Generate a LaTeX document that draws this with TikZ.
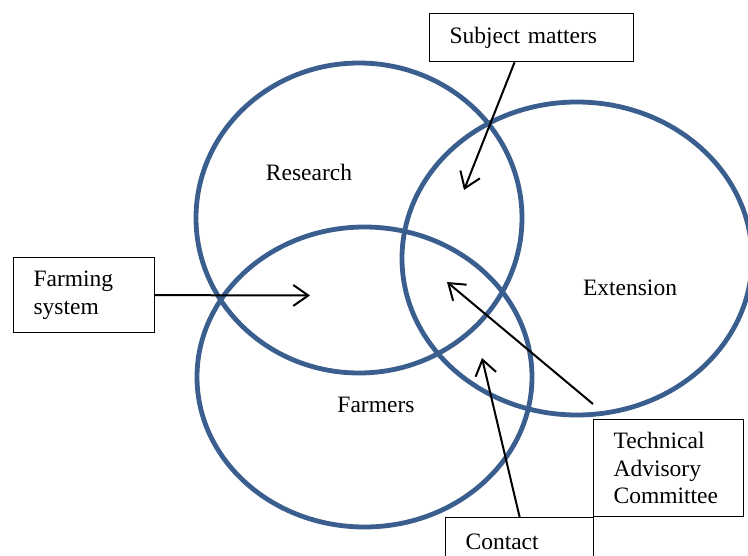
\documentclass[tikz,border=0pt]{standalone}
\usepackage{fontspec}
\setmainfont{Liberation Serif}
\usetikzlibrary{arrows.meta}
\definecolor{ringblue}{HTML}{3A5F8E}
\tikzset{
  ring/.style={draw=ringblue, line width=4.8pt},
  lbl/.style={inner sep=0pt, font=\fontsize{23.5}{27.5}\selectfont},
  boxnode/.style={draw=black, line width=1.2pt, rectangle, align=left, inner xsep=20pt, inner ysep=0pt, anchor=north west,
    font=\fontsize{23.5}{27.5}\selectfont},
  pointer/.style={draw=black, line width=2pt, -{Straight Barb[length=15pt,width=21pt,line width=2pt]}}
}
\begin{document}
\begin{tikzpicture}[x=1pt,y=-1pt]
\useasboundingbox (0,0) rectangle (748,555);
\clip (0,0) rectangle (748,555);
\fill[white] (0,0) rectangle (748,555);
% circles
\draw[ring] (359,218) ellipse [x radius=163, y radius=155];
\draw[ring] (364.5,377) ellipse [x radius=167.5, y radius=150];
\draw[ring] (577,258.5) ellipse [x radius=175, y radius=156.5];
% labels
\node[lbl] (research) at (309,172) {Research};
\node[lbl] (extension) at (630,288) {Extension};
\node[lbl] (farmers) at (376,405) {Farmers};
% boxes
\node[boxnode, text width=164pt, minimum height=48pt] (subj) at (429,13) {Subject matters};
\node[boxnode, text width=101pt, minimum height=75pt] (farm) at (13,257) {Farming\\system};
\node[boxnode, text width=110pt, minimum height=97pt] (tac) at (593,419) {Technical\\Advisory\\Committee};
\node[boxnode, text width=108pt, minimum height=48pt] (contact) at (445,517) {Contact};
% targets
\coordinate (tSubj) at (464,190);
\coordinate (tFarm) at (310,295.5);
\coordinate (tTac) at (447,282);
\coordinate (tContact) at (482,358);
% arrows
\draw[pointer] ([xshift=-17pt]subj.south) -- (tSubj);
\draw[pointer] (farm.east) -- (tFarm);
\draw[pointer] ([yshift=15pt]tac.north west) -- (tTac);
\draw[pointer] (contact.north) -- (tContact);
\end{tikzpicture}
\end{document}
